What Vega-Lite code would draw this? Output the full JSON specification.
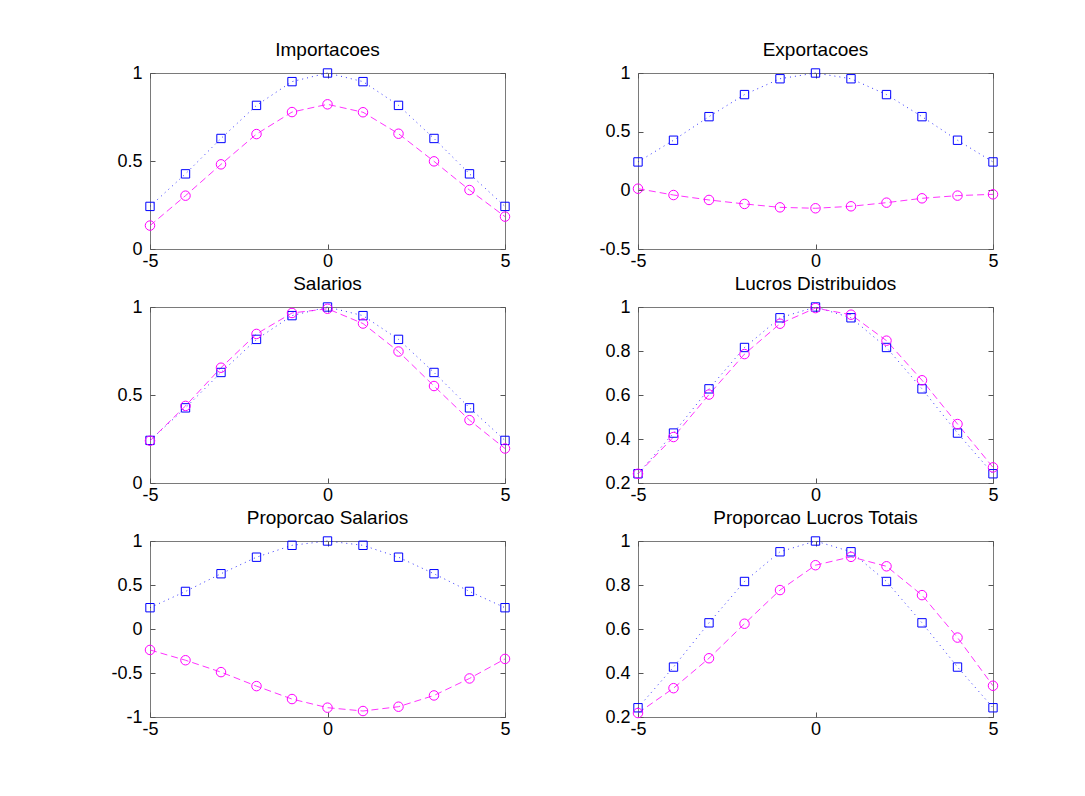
{
  "$schema": "https://vega.github.io/schema/vega-lite/v6.json",
  "background": "white",
  "padding": {"left": 110, "top": 40, "right": 5, "bottom": 5},
  "config": {
    "font": "Liberation Sans",
    "view": {"stroke": "#7a7a7a", "strokeWidth": 1},
    "axis": {
      "grid": false,
      "domain": false,
      "ticks": true,
      "tickSize": -5,
      "tickColor": "#555555",
      "labelFont": "Liberation Sans",
      "labelFontSize": 18,
      "labelColor": "black",
      "labelExpr": "'' + datum.value",
      "title": null,
      "labelFlush": false,
      "labelOverlap": false
    },
    "axisX": {"labelPadding": 8},
    "axisY": {"labelPadding": 13},
    "title": {"font": "Liberation Sans", "fontSize": 19, "fontWeight": "normal", "color": "black", "offset": 4, "anchor": "middle"}
  },
  "data": {"values": [
    {"p":"Importacoes","s":"b","x":-5,"y":0.242},{"p":"Importacoes","s":"b","x":-4,"y":0.427},{"p":"Importacoes","s":"b","x":-3,"y":0.628},{"p":"Importacoes","s":"b","x":-2,"y":0.816},{"p":"Importacoes","s":"b","x":-1,"y":0.951},{"p":"Importacoes","s":"b","x":0,"y":1},{"p":"Importacoes","s":"b","x":1,"y":0.951},{"p":"Importacoes","s":"b","x":2,"y":0.816},{"p":"Importacoes","s":"b","x":3,"y":0.628},{"p":"Importacoes","s":"b","x":4,"y":0.427},{"p":"Importacoes","s":"b","x":5,"y":0.242},
    {"p":"Importacoes","s":"m","x":-5,"y":0.133},{"p":"Importacoes","s":"m","x":-4,"y":0.303},{"p":"Importacoes","s":"m","x":-3,"y":0.481},{"p":"Importacoes","s":"m","x":-2,"y":0.653},{"p":"Importacoes","s":"m","x":-1,"y":0.778},{"p":"Importacoes","s":"m","x":0,"y":0.822},{"p":"Importacoes","s":"m","x":1,"y":0.777},{"p":"Importacoes","s":"m","x":2,"y":0.655},{"p":"Importacoes","s":"m","x":3,"y":0.498},{"p":"Importacoes","s":"m","x":4,"y":0.335},{"p":"Importacoes","s":"m","x":5,"y":0.184},
    {"p":"Exportacoes","s":"b","x":-5,"y":0.242},{"p":"Exportacoes","s":"b","x":-4,"y":0.427},{"p":"Exportacoes","s":"b","x":-3,"y":0.628},{"p":"Exportacoes","s":"b","x":-2,"y":0.816},{"p":"Exportacoes","s":"b","x":-1,"y":0.951},{"p":"Exportacoes","s":"b","x":0,"y":1},{"p":"Exportacoes","s":"b","x":1,"y":0.951},{"p":"Exportacoes","s":"b","x":2,"y":0.816},{"p":"Exportacoes","s":"b","x":3,"y":0.628},{"p":"Exportacoes","s":"b","x":4,"y":0.427},{"p":"Exportacoes","s":"b","x":5,"y":0.242},
    {"p":"Exportacoes","s":"m","x":-5,"y":0.014},{"p":"Exportacoes","s":"m","x":-4,"y":-0.04},{"p":"Exportacoes","s":"m","x":-3,"y":-0.082},{"p":"Exportacoes","s":"m","x":-2,"y":-0.116},{"p":"Exportacoes","s":"m","x":-1,"y":-0.145},{"p":"Exportacoes","s":"m","x":0,"y":-0.153},{"p":"Exportacoes","s":"m","x":1,"y":-0.136},{"p":"Exportacoes","s":"m","x":2,"y":-0.105},{"p":"Exportacoes","s":"m","x":3,"y":-0.068},{"p":"Exportacoes","s":"m","x":4,"y":-0.045},{"p":"Exportacoes","s":"m","x":5,"y":-0.034},
    {"p":"Salarios","s":"b","x":-5,"y":0.242},{"p":"Salarios","s":"b","x":-4,"y":0.427},{"p":"Salarios","s":"b","x":-3,"y":0.628},{"p":"Salarios","s":"b","x":-2,"y":0.816},{"p":"Salarios","s":"b","x":-1,"y":0.951},{"p":"Salarios","s":"b","x":0,"y":1},{"p":"Salarios","s":"b","x":1,"y":0.951},{"p":"Salarios","s":"b","x":2,"y":0.816},{"p":"Salarios","s":"b","x":3,"y":0.628},{"p":"Salarios","s":"b","x":4,"y":0.427},{"p":"Salarios","s":"b","x":5,"y":0.242},
    {"p":"Salarios","s":"m","x":-5,"y":0.24},{"p":"Salarios","s":"m","x":-4,"y":0.438},{"p":"Salarios","s":"m","x":-3,"y":0.655},{"p":"Salarios","s":"m","x":-2,"y":0.847},{"p":"Salarios","s":"m","x":-1,"y":0.966},{"p":"Salarios","s":"m","x":0,"y":0.99},{"p":"Salarios","s":"m","x":1,"y":0.906},{"p":"Salarios","s":"m","x":2,"y":0.747},{"p":"Salarios","s":"m","x":3,"y":0.551},{"p":"Salarios","s":"m","x":4,"y":0.357},{"p":"Salarios","s":"m","x":5,"y":0.196},
    {"p":"Lucros Distribuidos","s":"b","x":-5,"y":0.242},{"p":"Lucros Distribuidos","s":"b","x":-4,"y":0.427},{"p":"Lucros Distribuidos","s":"b","x":-3,"y":0.628},{"p":"Lucros Distribuidos","s":"b","x":-2,"y":0.816},{"p":"Lucros Distribuidos","s":"b","x":-1,"y":0.951},{"p":"Lucros Distribuidos","s":"b","x":0,"y":1},{"p":"Lucros Distribuidos","s":"b","x":1,"y":0.951},{"p":"Lucros Distribuidos","s":"b","x":2,"y":0.816},{"p":"Lucros Distribuidos","s":"b","x":3,"y":0.628},{"p":"Lucros Distribuidos","s":"b","x":4,"y":0.427},{"p":"Lucros Distribuidos","s":"b","x":5,"y":0.242},
    {"p":"Lucros Distribuidos","s":"m","x":-5,"y":0.242},{"p":"Lucros Distribuidos","s":"m","x":-4,"y":0.409},{"p":"Lucros Distribuidos","s":"m","x":-3,"y":0.602},{"p":"Lucros Distribuidos","s":"m","x":-2,"y":0.786},{"p":"Lucros Distribuidos","s":"m","x":-1,"y":0.924},{"p":"Lucros Distribuidos","s":"m","x":0,"y":0.995},{"p":"Lucros Distribuidos","s":"m","x":1,"y":0.965},{"p":"Lucros Distribuidos","s":"m","x":2,"y":0.847},{"p":"Lucros Distribuidos","s":"m","x":3,"y":0.667},{"p":"Lucros Distribuidos","s":"m","x":4,"y":0.468},{"p":"Lucros Distribuidos","s":"m","x":5,"y":0.271},
    {"p":"Proporcao Salarios","s":"b","x":-5,"y":0.242},{"p":"Proporcao Salarios","s":"b","x":-4,"y":0.427},{"p":"Proporcao Salarios","s":"b","x":-3,"y":0.628},{"p":"Proporcao Salarios","s":"b","x":-2,"y":0.816},{"p":"Proporcao Salarios","s":"b","x":-1,"y":0.951},{"p":"Proporcao Salarios","s":"b","x":0,"y":1},{"p":"Proporcao Salarios","s":"b","x":1,"y":0.951},{"p":"Proporcao Salarios","s":"b","x":2,"y":0.816},{"p":"Proporcao Salarios","s":"b","x":3,"y":0.628},{"p":"Proporcao Salarios","s":"b","x":4,"y":0.427},{"p":"Proporcao Salarios","s":"b","x":5,"y":0.242},
    {"p":"Proporcao Salarios","s":"m","x":-5,"y":-0.238},{"p":"Proporcao Salarios","s":"m","x":-4,"y":-0.355},{"p":"Proporcao Salarios","s":"m","x":-3,"y":-0.49},{"p":"Proporcao Salarios","s":"m","x":-2,"y":-0.649},{"p":"Proporcao Salarios","s":"m","x":-1,"y":-0.796},{"p":"Proporcao Salarios","s":"m","x":0,"y":-0.894},{"p":"Proporcao Salarios","s":"m","x":1,"y":-0.932},{"p":"Proporcao Salarios","s":"m","x":2,"y":-0.883},{"p":"Proporcao Salarios","s":"m","x":3,"y":-0.755},{"p":"Proporcao Salarios","s":"m","x":4,"y":-0.562},{"p":"Proporcao Salarios","s":"m","x":5,"y":-0.34},
    {"p":"Proporcao Lucros Totais","s":"b","x":-5,"y":0.242},{"p":"Proporcao Lucros Totais","s":"b","x":-4,"y":0.427},{"p":"Proporcao Lucros Totais","s":"b","x":-3,"y":0.628},{"p":"Proporcao Lucros Totais","s":"b","x":-2,"y":0.816},{"p":"Proporcao Lucros Totais","s":"b","x":-1,"y":0.951},{"p":"Proporcao Lucros Totais","s":"b","x":0,"y":1},{"p":"Proporcao Lucros Totais","s":"b","x":1,"y":0.951},{"p":"Proporcao Lucros Totais","s":"b","x":2,"y":0.816},{"p":"Proporcao Lucros Totais","s":"b","x":3,"y":0.628},{"p":"Proporcao Lucros Totais","s":"b","x":4,"y":0.427},{"p":"Proporcao Lucros Totais","s":"b","x":5,"y":0.242},
    {"p":"Proporcao Lucros Totais","s":"m","x":-5,"y":0.218},{"p":"Proporcao Lucros Totais","s":"m","x":-4,"y":0.331},{"p":"Proporcao Lucros Totais","s":"m","x":-3,"y":0.467},{"p":"Proporcao Lucros Totais","s":"m","x":-2,"y":0.624},{"p":"Proporcao Lucros Totais","s":"m","x":-1,"y":0.777},{"p":"Proporcao Lucros Totais","s":"m","x":0,"y":0.89},{"p":"Proporcao Lucros Totais","s":"m","x":1,"y":0.928},{"p":"Proporcao Lucros Totais","s":"m","x":2,"y":0.885},{"p":"Proporcao Lucros Totais","s":"m","x":3,"y":0.754},{"p":"Proporcao Lucros Totais","s":"m","x":4,"y":0.561},{"p":"Proporcao Lucros Totais","s":"m","x":5,"y":0.342}
  ]},
  "columns": 2,
  "spacing": {"row": 58, "column": 133},
  "bounds": "flush",
  "concat": [
    {"title": "Importacoes", "width": 355, "height": 176,
     "transform": [{"filter": "datum.p === 'Importacoes'"}],
     "encoding": {
       "color": {"field": "s", "type": "nominal", "scale": {"domain": ["b", "m"], "range": ["#0000ff", "#ff00ff"]}, "legend": null}
     },
     "resolve": {"axis": {"x": "independent", "y": "independent"}},
     "layer": [
       {"mark": {"type": "line", "strokeWidth": 1, "opacity": 0.8},
        "encoding": {
          "x": {"field": "x", "type": "quantitative", "scale": {"domain": [-5, 5], "nice": false}, "axis": {"values": [-5, 0, 5]}},
          "y": {"field": "y", "type": "quantitative", "scale": {"domain": [0, 1], "nice": false, "zero": false}, "axis": {"values": [0, 0.5, 1]}},
          "strokeDash": {"field": "s", "type": "nominal", "scale": {"domain": ["b", "m"], "range": [[1, 4], [7, 4]]}, "legend": null}}},
       {"mark": {"type": "point", "filled": false, "strokeWidth": 1, "opacity": 1},
        "encoding": {
          "x": {"field": "x", "type": "quantitative", "axis": {"values": [-5, 0, 5], "orient": "top", "labels": false}},
          "y": {"field": "y", "type": "quantitative", "axis": {"values": [0, 0.5, 1], "orient": "right", "labels": false}},
          "shape": {"field": "s", "type": "nominal", "scale": {"domain": ["b", "m"], "range": ["square", "circle"]}, "legend": null},
          "size": {"field": "s", "type": "nominal", "scale": {"domain": ["b", "m"], "range": [70, 90]}, "legend": null}}}
     ]},
    {"title": "Exportacoes", "width": 355, "height": 176,
     "transform": [{"filter": "datum.p === 'Exportacoes'"}],
     "encoding": {
       "color": {"field": "s", "type": "nominal", "scale": {"domain": ["b", "m"], "range": ["#0000ff", "#ff00ff"]}, "legend": null}
     },
     "resolve": {"axis": {"x": "independent", "y": "independent"}},
     "layer": [
       {"mark": {"type": "line", "strokeWidth": 1, "opacity": 0.8},
        "encoding": {
          "x": {"field": "x", "type": "quantitative", "scale": {"domain": [-5, 5], "nice": false}, "axis": {"values": [-5, 0, 5]}},
          "y": {"field": "y", "type": "quantitative", "scale": {"domain": [-0.5, 1], "nice": false, "zero": false}, "axis": {"values": [-0.5, 0, 0.5, 1]}},
          "strokeDash": {"field": "s", "type": "nominal", "scale": {"domain": ["b", "m"], "range": [[1, 4], [7, 4]]}, "legend": null}}},
       {"mark": {"type": "point", "filled": false, "strokeWidth": 1, "opacity": 1},
        "encoding": {
          "x": {"field": "x", "type": "quantitative", "axis": {"values": [-5, 0, 5], "orient": "top", "labels": false}},
          "y": {"field": "y", "type": "quantitative", "axis": {"values": [-0.5, 0, 0.5, 1], "orient": "right", "labels": false}},
          "shape": {"field": "s", "type": "nominal", "scale": {"domain": ["b", "m"], "range": ["square", "circle"]}, "legend": null},
          "size": {"field": "s", "type": "nominal", "scale": {"domain": ["b", "m"], "range": [70, 90]}, "legend": null}}}
     ]},
    {"title": "Salarios", "width": 355, "height": 176,
     "transform": [{"filter": "datum.p === 'Salarios'"}],
     "encoding": {
       "color": {"field": "s", "type": "nominal", "scale": {"domain": ["b", "m"], "range": ["#0000ff", "#ff00ff"]}, "legend": null}
     },
     "resolve": {"axis": {"x": "independent", "y": "independent"}},
     "layer": [
       {"mark": {"type": "line", "strokeWidth": 1, "opacity": 0.8},
        "encoding": {
          "x": {"field": "x", "type": "quantitative", "scale": {"domain": [-5, 5], "nice": false}, "axis": {"values": [-5, 0, 5]}},
          "y": {"field": "y", "type": "quantitative", "scale": {"domain": [0, 1], "nice": false, "zero": false}, "axis": {"values": [0, 0.5, 1]}},
          "strokeDash": {"field": "s", "type": "nominal", "scale": {"domain": ["b", "m"], "range": [[1, 4], [7, 4]]}, "legend": null}}},
       {"mark": {"type": "point", "filled": false, "strokeWidth": 1, "opacity": 1},
        "encoding": {
          "x": {"field": "x", "type": "quantitative", "axis": {"values": [-5, 0, 5], "orient": "top", "labels": false}},
          "y": {"field": "y", "type": "quantitative", "axis": {"values": [0, 0.5, 1], "orient": "right", "labels": false}},
          "shape": {"field": "s", "type": "nominal", "scale": {"domain": ["b", "m"], "range": ["square", "circle"]}, "legend": null},
          "size": {"field": "s", "type": "nominal", "scale": {"domain": ["b", "m"], "range": [70, 90]}, "legend": null}}}
     ]},
    {"title": "Lucros Distribuidos", "width": 355, "height": 176,
     "transform": [{"filter": "datum.p === 'Lucros Distribuidos'"}],
     "encoding": {
       "color": {"field": "s", "type": "nominal", "scale": {"domain": ["b", "m"], "range": ["#0000ff", "#ff00ff"]}, "legend": null}
     },
     "resolve": {"axis": {"x": "independent", "y": "independent"}},
     "layer": [
       {"mark": {"type": "line", "strokeWidth": 1, "opacity": 0.8},
        "encoding": {
          "x": {"field": "x", "type": "quantitative", "scale": {"domain": [-5, 5], "nice": false}, "axis": {"values": [-5, 0, 5]}},
          "y": {"field": "y", "type": "quantitative", "scale": {"domain": [0.2, 1], "nice": false, "zero": false}, "axis": {"values": [0.2, 0.4, 0.6, 0.8, 1]}},
          "strokeDash": {"field": "s", "type": "nominal", "scale": {"domain": ["b", "m"], "range": [[1, 4], [7, 4]]}, "legend": null}}},
       {"mark": {"type": "point", "filled": false, "strokeWidth": 1, "opacity": 1},
        "encoding": {
          "x": {"field": "x", "type": "quantitative", "axis": {"values": [-5, 0, 5], "orient": "top", "labels": false}},
          "y": {"field": "y", "type": "quantitative", "axis": {"values": [0.2, 0.4, 0.6, 0.8, 1], "orient": "right", "labels": false}},
          "shape": {"field": "s", "type": "nominal", "scale": {"domain": ["b", "m"], "range": ["square", "circle"]}, "legend": null},
          "size": {"field": "s", "type": "nominal", "scale": {"domain": ["b", "m"], "range": [70, 90]}, "legend": null}}}
     ]},
    {"title": "Proporcao Salarios", "width": 355, "height": 176,
     "transform": [{"filter": "datum.p === 'Proporcao Salarios'"}],
     "encoding": {
       "color": {"field": "s", "type": "nominal", "scale": {"domain": ["b", "m"], "range": ["#0000ff", "#ff00ff"]}, "legend": null}
     },
     "resolve": {"axis": {"x": "independent", "y": "independent"}},
     "layer": [
       {"mark": {"type": "line", "strokeWidth": 1, "opacity": 0.8},
        "encoding": {
          "x": {"field": "x", "type": "quantitative", "scale": {"domain": [-5, 5], "nice": false}, "axis": {"values": [-5, 0, 5]}},
          "y": {"field": "y", "type": "quantitative", "scale": {"domain": [-1, 1], "nice": false, "zero": false}, "axis": {"values": [-1, -0.5, 0, 0.5, 1]}},
          "strokeDash": {"field": "s", "type": "nominal", "scale": {"domain": ["b", "m"], "range": [[1, 4], [7, 4]]}, "legend": null}}},
       {"mark": {"type": "point", "filled": false, "strokeWidth": 1, "opacity": 1},
        "encoding": {
          "x": {"field": "x", "type": "quantitative", "axis": {"values": [-5, 0, 5], "orient": "top", "labels": false}},
          "y": {"field": "y", "type": "quantitative", "axis": {"values": [-1, -0.5, 0, 0.5, 1], "orient": "right", "labels": false}},
          "shape": {"field": "s", "type": "nominal", "scale": {"domain": ["b", "m"], "range": ["square", "circle"]}, "legend": null},
          "size": {"field": "s", "type": "nominal", "scale": {"domain": ["b", "m"], "range": [70, 90]}, "legend": null}}}
     ]},
    {"title": "Proporcao Lucros Totais", "width": 355, "height": 176,
     "transform": [{"filter": "datum.p === 'Proporcao Lucros Totais'"}],
     "encoding": {
       "color": {"field": "s", "type": "nominal", "scale": {"domain": ["b", "m"], "range": ["#0000ff", "#ff00ff"]}, "legend": null}
     },
     "resolve": {"axis": {"x": "independent", "y": "independent"}},
     "layer": [
       {"mark": {"type": "line", "strokeWidth": 1, "opacity": 0.8},
        "encoding": {
          "x": {"field": "x", "type": "quantitative", "scale": {"domain": [-5, 5], "nice": false}, "axis": {"values": [-5, 0, 5]}},
          "y": {"field": "y", "type": "quantitative", "scale": {"domain": [0.2, 1], "nice": false, "zero": false}, "axis": {"values": [0.2, 0.4, 0.6, 0.8, 1]}},
          "strokeDash": {"field": "s", "type": "nominal", "scale": {"domain": ["b", "m"], "range": [[1, 4], [7, 4]]}, "legend": null}}},
       {"mark": {"type": "point", "filled": false, "strokeWidth": 1, "opacity": 1},
        "encoding": {
          "x": {"field": "x", "type": "quantitative", "axis": {"values": [-5, 0, 5], "orient": "top", "labels": false}},
          "y": {"field": "y", "type": "quantitative", "axis": {"values": [0.2, 0.4, 0.6, 0.8, 1], "orient": "right", "labels": false}},
          "shape": {"field": "s", "type": "nominal", "scale": {"domain": ["b", "m"], "range": ["square", "circle"]}, "legend": null},
          "size": {"field": "s", "type": "nominal", "scale": {"domain": ["b", "m"], "range": [70, 90]}, "legend": null}}}
     ]}
  ]
}
